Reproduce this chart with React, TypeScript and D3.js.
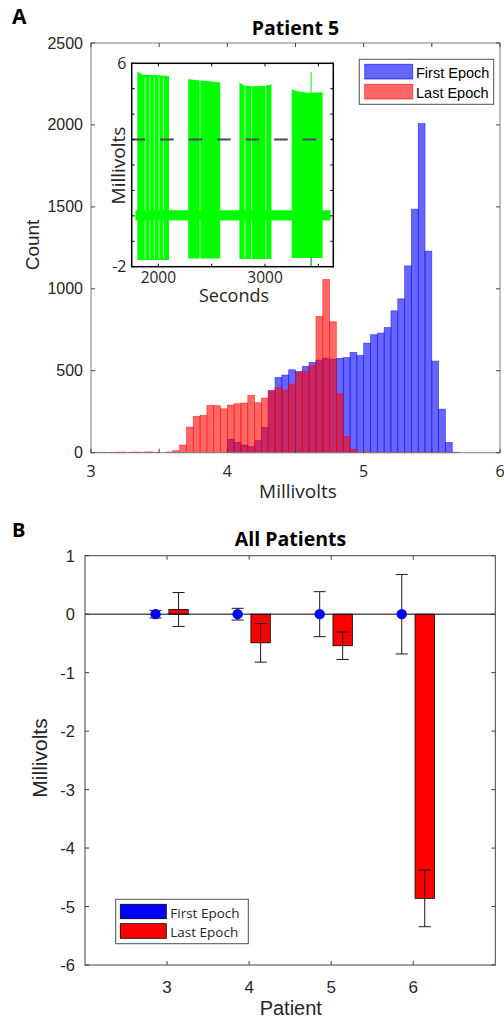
import React from "react";
import * as d3 from "d3";

// ---- Panel A: histogram counts, 0.05 mV bins starting at 3.00 mV ----
const binStart = 3;
const binWidth = 0.05;
const firstEpochCounts = [
  0, 0, 0, 0, 0, 0, 0, 0, 0, 0,
  0, 0, 0, 0, 0, 0, 0, 0, 0, 0,
  83, 63, 47, 37, 75, 155, 380, 460, 474, 506,
  496, 527, 551, 565, 577, 571, 575, 581, 612, 594,
  669, 720, 730, 764, 866, 939, 1140, 1486, 2008, 1230,
  559, 266, 63, 3, 0, 0, 0, 0, 0, 0,
];
const lastEpochCounts = [
  2, 3, 2, 3, 4, 2, 4, 3, 5, 3,
  0, 4, 12, 47, 156, 222, 228, 289, 287, 268,
  291, 299, 303, 350, 305, 333, 376, 398, 382, 419,
  490, 496, 531, 832, 1057, 799, 360, 100, 20, 3,
  3, 2, 3, 2, 3, 2, 3, 2, 3, 2,
  3, 2, 3, 0, 0, 0, 0, 0, 0, 0,
];
const histXTicks = [3, 3.5, 4, 4.5, 5, 5.5, 6];
const histXLabels = ["3", "", "4", "", "5", "", "6"];
const histYTicks = [0, 500, 1000, 1500, 2000, 2500];

// ---- Inset: raw trace, drawn as burst envelopes ----
const traceStart = 1785;
const traceEnd = 3615;
const bandLow = -0.18;
const bandHigh = 0.22;
const burstEnvelopes: [number, number][][] = [
  [[1803, 5.67], [1830, 5.62], [1850, 5.55], [2000, 5.53], [2100, 5.5]],
  [[2280, 5.37], [2400, 5.32], [2500, 5.28], [2580, 5.24]],
  [[2760, 5.24], [2800, 5.13], [2900, 5.1], [3000, 5.12], [3060, 5.17]],
  [[3250, 4.98], [3300, 4.9], [3400, 4.84], [3500, 4.85], [3540, 4.86]],
];
const burstLow = [-1.74, -1.68, -1.7, -1.66];
const burstGaps = [1875, 1922, 1963, 2007, 2047, 2390, 2812, 2875, 3007];
const spikeTime = 3432;
const spikeTop = 5.67;
const thresholdLevel = 3;
const insetXTicks = [2000, 2500, 3000, 3500];
const insetXLabels = ["2000", "", "3000", ""];
const insetYTicks = [-2, -1, 0, 1, 2, 3, 4, 5, 6];
const insetYLabels = ["-2", "", "", "", "", "", "", "", "6"];

// ---- Panel B: mean change per patient ----
const patients = [3, 4, 5, 6];
const firstMean = [0, 0, 0, 0];
const firstErr = [0.065, 0.1, 0.385, 0.68];
const lastMean = [0.08, -0.49, -0.54, -4.86];
const lastErr = [0.29, 0.33, 0.235, 0.485];
const barYTicks = [-6, -5, -4, -3, -2, -1, 0, 1];

const ARIAL = "'Liberation Sans', Arial, sans-serif";
const OPEN = "'Open Sans', sans-serif";
const TXT = "#262626";

export default function App() {
  // panel A scales
  const x = d3.scaleLinear().domain([3, 6]).range([91, 500]);
  const y = d3.scaleLinear().domain([0, 2500]).range([452.7, 43]);
  // inset scales
  const ix = d3.scaleLinear().domain([1750, 3640]).range([131.7, 333.3]);
  const iy = d3.scaleLinear().domain([-2, 6]).range([266.7, 63.3]);
  // panel B scales
  const bx = d3.scaleLinear().domain([2, 7]).range([85, 495.3]);
  const by = d3.scaleLinear().domain([-6, 1]).range([965, 555.7]);
  const off = 0.14;
  const barW = bx(0.236) - bx(0);

  const histBars = (counts: number[], fill: string, edge: string) =>
    counts.map((c, i) =>
      c > 0 ? (
        <rect
          key={i}
          x={x(binStart + i * binWidth)}
          y={y(c)}
          width={x(binStart + (i + 1) * binWidth) - x(binStart + i * binWidth)}
          height={y(0) - y(c)}
          fill={fill}
          fillOpacity={0.6}
          stroke={edge}
          strokeOpacity={0.6}
          strokeWidth={0.7}
        />
      ) : null
    );

  const burstArea = (env: [number, number][], low: number) =>
    d3
      .area<[number, number]>()
      .x((d) => ix(d[0]))
      .y0(iy(low))
      .y1((d) => iy(d[1]))(env) as string;

  const tick = 4;

  return (
    <div style={{ position: "absolute", left: 0, top: 0 }}>
      <svg width={504} height={1019} style={{ display: "block" }}>
        <rect width={504} height={1019} fill="#fff" />

        {/* ===== Panel A ===== */}
        <text x={12} y={24} fontFamily={OPEN} fontWeight="bold" fontSize={21} fill="#000">A</text>
        <text x={295.5} y={35} textAnchor="middle" fontFamily={OPEN} fontWeight="bold" fontSize={19.5} fill="#000">
          Patient 5
        </text>

        {histBars(firstEpochCounts, "#0000ff", "#0000ff")}
        {histBars(lastEpochCounts, "#ff0000", "#ff0000")}

        <rect x={91} y={43} width={409} height={409.7} fill="none" stroke="#808080" strokeWidth={1} />
        {histXTicks.map((t, i) => (
          <g key={"hx" + i}>
            <line x1={x(t)} x2={x(t)} y1={452.7} y2={452.7 - tick} stroke="#404040" />
            <line x1={x(t)} x2={x(t)} y1={43} y2={43 + tick} stroke="#404040" />
            <text x={x(t)} y={476.5} textAnchor="middle" fontFamily={OPEN} fontSize={16} fill={TXT}>
              {histXLabels[i]}
            </text>
          </g>
        ))}
        {histYTicks.map((t) => (
          <g key={"hy" + t}>
            <line x1={91} x2={91 + tick} y1={y(t)} y2={y(t)} stroke="#404040" />
            <line x1={500} x2={500 - tick} y1={y(t)} y2={y(t)} stroke="#404040" />
            <text x={83} y={y(t) + 5.5} textAnchor="end" fontFamily={ARIAL} fontSize={16} fill={TXT}>
              {t}
            </text>
          </g>
        ))}
        <text
          transform="translate(39,245) rotate(-90)"
          textAnchor="middle"
          fontFamily={ARIAL}
          fontSize={19}
          fill={TXT}
        >
          Count
        </text>
        <text x={298} y={498} textAnchor="middle" fontFamily={OPEN} fontSize={19} fill={TXT}>
          Millivolts
        </text>

        {/* legend A */}
        <rect x={359.3} y={59.3} width={134.4} height={45} fill="#fff" stroke="#505050" strokeWidth={1} />
        <rect x={364.7} y={64.3} width={48} height={14.7} fill="#0000ff" fillOpacity={0.6} stroke="#0000ff" strokeOpacity={0.6} />
        <rect x={364.7} y={84.3} width={48} height={14.7} fill="#ff0000" fillOpacity={0.6} stroke="#ff0000" strokeOpacity={0.6} />
        <text x={416} y={77.5} fontFamily={ARIAL} fontSize={14.5} fill="#000">First Epoch</text>
        <text x={416} y={97.5} fontFamily={ARIAL} fontSize={14.5} fill="#000">Last Epoch</text>

        {/* inset */}
        <rect x={131.7} y={63.3} width={201.6} height={203.4} fill="#fff" />
        <g>
          {burstEnvelopes.map((env, i) => (
            <path key={"b" + i} d={burstArea(env, burstLow[i])} fill="#00ff00" />
          ))}
          {burstGaps.map((g) => (
            <line key={"g" + g} x1={ix(g)} x2={ix(g)} y1={iy(5.45)} y2={iy(-1.7)} stroke="#fff" strokeOpacity={0.75} strokeWidth={0.8} />
          ))}
          <rect
            x={ix(traceStart)}
            y={iy(bandHigh)}
            width={ix(traceEnd) - ix(traceStart)}
            height={iy(bandLow) - iy(bandHigh)}
            fill="#00ff00"
          />
          <line x1={ix(spikeTime)} x2={ix(spikeTime)} y1={iy(4.8)} y2={iy(spikeTop)} stroke="#00ff00" strokeWidth={1} />
          <line x1={ix(spikeTime)} x2={ix(spikeTime)} y1={iy(-1.6)} y2={iy(-2)} stroke="#00a060" strokeWidth={1.2} />
          <line
            x1={ix(1750)}
            x2={ix(3640)}
            y1={iy(thresholdLevel)}
            y2={iy(thresholdLevel)}
            stroke="#4a4a4a"
            strokeWidth={2}
            strokeDasharray="13.5,15"
          />
        </g>
        <rect x={131.7} y={63.3} width={201.6} height={203.4} fill="none" stroke="#000" strokeWidth={1.5} />
        {insetXTicks.map((t, i) => (
          <g key={"ix" + t}>
            <line x1={ix(t)} x2={ix(t)} y1={266.7} y2={266.7 - 3} stroke="#000" />
            <line x1={ix(t)} x2={ix(t)} y1={63.3} y2={63.3 + 3} stroke="#000" />
            <text x={ix(t)} y={283} textAnchor="middle" fontFamily={OPEN} fontSize={15.5} fill={TXT}>
              {insetXLabels[i]}
            </text>
          </g>
        ))}
        {insetYTicks.map((t, i) => (
          <g key={"iy" + t}>
            <line x1={131.7} x2={131.7 + 3} y1={iy(t)} y2={iy(t)} stroke="#000" />
            <line x1={333.3} x2={333.3 - 3} y1={iy(t)} y2={iy(t)} stroke="#000" />
            <text x={126.5} y={iy(t) + 5.5} textAnchor="end" fontFamily={OPEN} fontSize={16} fill={TXT}>
              {insetYLabels[i]}
            </text>
          </g>
        ))}
        <text x={234} y={302} textAnchor="middle" fontFamily={OPEN} fontSize={18} fill={TXT}>
          Seconds
        </text>
        <text
          transform="translate(125,165.5) rotate(-90)"
          textAnchor="middle"
          fontFamily={OPEN}
          fontSize={19}
          fill={TXT}
        >
          Millivolts
        </text>

        {/* ===== Panel B ===== */}
        <text x={12} y={537} fontFamily={OPEN} fontWeight="bold" fontSize={20} fill="#000">B</text>
        <text x={290.5} y={546} textAnchor="middle" fontFamily={OPEN} fontWeight="bold" fontSize={19.5} fill="#000">
          All Patients
        </text>

        {patients.map((p, i) => {
          const v = lastMean[i];
          const cx = bx(p + off);
          return (
            <rect
              key={"bar" + p}
              x={cx - barW / 2}
              y={Math.min(by(v), by(0))}
              width={barW}
              height={Math.abs(by(v) - by(0))}
              fill="#ff0000"
              stroke="#000"
              strokeWidth={0.8}
            />
          );
        })}
        <line x1={85} x2={495.3} y1={by(0)} y2={by(0)} stroke="#000" strokeWidth={1} />
        {patients.map((p, i) => {
          const cxL = bx(p + off);
          const cxF = bx(p - off);
          const lo = lastMean[i] - lastErr[i];
          const hi = lastMean[i] + lastErr[i];
          const flo = firstMean[i] - firstErr[i];
          const fhi = firstMean[i] + firstErr[i];
          return (
            <g key={"err" + p} stroke="#1a1a1a" strokeWidth={1}>
              <line x1={cxL} x2={cxL} y1={by(lo)} y2={by(hi)} />
              <line x1={cxL - 6} x2={cxL + 6} y1={by(lo)} y2={by(lo)} />
              <line x1={cxL - 6} x2={cxL + 6} y1={by(hi)} y2={by(hi)} />
              <line x1={cxF} x2={cxF} y1={by(flo)} y2={by(fhi)} />
              <line x1={cxF - 6} x2={cxF + 6} y1={by(flo)} y2={by(flo)} />
              <line x1={cxF - 6} x2={cxF + 6} y1={by(fhi)} y2={by(fhi)} />
              <circle cx={cxF} cy={by(firstMean[i])} r={5.2} fill="#0000ff" stroke="none" />
            </g>
          );
        })}

        <rect x={85} y={555.7} width={410.3} height={409.3} fill="none" stroke="#404040" strokeWidth={1} />
        {patients.map((p) => (
          <g key={"bxt" + p}>
            <line x1={bx(p)} x2={bx(p)} y1={965} y2={965 - tick} stroke="#404040" />
            <line x1={bx(p)} x2={bx(p)} y1={555.7} y2={555.7 + tick} stroke="#404040" />
            <text x={bx(p)} y={992.5} textAnchor="middle" fontFamily={ARIAL} fontSize={17} fill={TXT}>
              {p}
            </text>
          </g>
        ))}
        {barYTicks.map((t) => (
          <g key={"byt" + t}>
            <line x1={85} x2={85 + tick} y1={by(t)} y2={by(t)} stroke="#404040" />
            <line x1={495.3} x2={495.3 - tick} y1={by(t)} y2={by(t)} stroke="#404040" />
            <text x={75} y={by(t) + 6} textAnchor="end" fontFamily={ARIAL} fontSize={16.5} fill={TXT}>
              {t}
            </text>
          </g>
        ))}
        <text
          transform="translate(46.5,758) rotate(-90)"
          textAnchor="middle"
          fontFamily={ARIAL}
          fontSize={21}
          fill={TXT}
        >
          Millivolts
        </text>
        <text x={290.8} y={1014.5} textAnchor="middle" fontFamily={ARIAL} fontSize={20} fill={TXT}>
          Patient
        </text>

        {/* legend B */}
        <rect x={115.7} y={899.3} width={132.6} height={44.4} fill="#fff" stroke="#505050" strokeWidth={1} />
        <rect x={120.3} y={904.3} width={46} height={14.4} fill="#0000ff" stroke="#000" strokeWidth={0.8} />
        <rect x={120.3} y={923.7} width={46} height={14.6} fill="#ff0000" stroke="#000" strokeWidth={0.8} />
        <text x={170.3} y={918} fontFamily={OPEN} fontSize={13.5} fill={TXT}>First Epoch</text>
        <text x={170.3} y={936.5} fontFamily={OPEN} fontSize={13.5} fill={TXT}>Last Epoch</text>
      </svg>
    </div>
  );
}
